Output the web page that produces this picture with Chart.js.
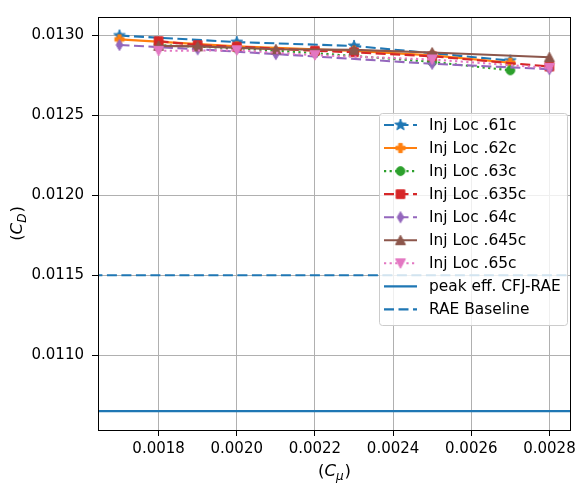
<!DOCTYPE html>
<html>
<head>
<meta charset="utf-8">
<script src="https://cdn.jsdelivr.net/npm/chart.js@4"></script>
<style>
html,body{margin:0;padding:0;background:#fff;}
#wrap{width:580px;height:486px;}
</style>
</head>
<body>
<div id="wrap"><canvas id="c" width="580" height="486"></canvas></div>
<script>
// ---- data ----
const xs61  = [0.0017, 0.0020, 0.0023, 0.0027];
const cd61  = [0.01300, 0.012959, 0.012935, 0.012843];
const xs62  = [0.0017, 0.0020, 0.0023, 0.0025, 0.0027];
const cd62  = [0.012976, 0.012932, 0.012904, 0.012876, 0.012830];
const xs63  = [0.0018, 0.0020, 0.0022, 0.0025, 0.0027];
const cd63  = [0.012940, 0.012920, 0.012890, 0.012835, 0.012782];
const xs635 = [0.0018, 0.0019, 0.0020, 0.0022, 0.0023, 0.0025, 0.0028];
const cd635 = [0.012965, 0.012940, 0.012930, 0.012905, 0.012895, 0.012870, 0.012806];
const xs64  = [0.0017, 0.0019, 0.0021, 0.0025, 0.0028];
const cd64  = [0.012941, 0.012914, 0.012884, 0.012823, 0.012790];
const xs645 = [0.0018, 0.0019, 0.0021, 0.0023, 0.0025, 0.0028];
const cd645 = [0.012935, 0.012932, 0.012914, 0.012910, 0.012894, 0.012864];
const xs65  = [0.0018, 0.0020, 0.0022, 0.0025, 0.0028];
const cd65  = [0.012904, 0.012908, 0.012877, 0.012850, 0.012797];
const peakCFJ = 0.010649;
const raeBaseline = 0.0115;
const seriesLabels = ['Inj Loc .61c','Inj Loc .62c','Inj Loc .63c','Inj Loc .635c','Inj Loc .64c','Inj Loc .645c','Inj Loc .65c'];
const refLabels = ['peak eff. CFJ-RAE','RAE Baseline'];
const xTicks = [0.0018, 0.0020, 0.0022, 0.0024, 0.0026, 0.0028];
const yTicks = [0.0110, 0.0115, 0.0120, 0.0125, 0.0130];
const xRange = [0.001645, 0.002855];
const yRange = [0.010531, 0.013116];

// ---- styling ----
const colors = ['#1f77b4','#ff7f0e','#2ca02c','#d62728','#9467bd','#8c564b','#e377c2'];
const DASH = [10, 4.5], DOT = [2.2, 3.4];
const dashes = [DASH, [], DOT, DASH, DASH, [], DOT];
const shapes = ['star','plus','circle','square','thindiamond','triup','tridown'];
const LW = 2.1;

function makeMarker(shape, color){
  const S = 18, c = document.createElement('canvas');
  c.width = S; c.height = S;
  const g = c.getContext('2d');
  g.fillStyle = color; g.strokeStyle = color; g.lineWidth = 1; g.lineJoin = 'miter';
  const cx = S/2, cy = S/2;
  g.beginPath();
  if (shape === 'star') {
    const R = 6.0, r = 2.5;
    for (let i = 0; i < 10; i++) {
      const a = -Math.PI/2 + i*Math.PI/5, rr = i%2 ? r : R;
      const px = cx + rr*Math.cos(a), py = cy + rr*Math.sin(a);
      i ? g.lineTo(px,py) : g.moveTo(px,py);
    }
    g.closePath();
  } else if (shape === 'plus') {
    const a = 4.6, w = 1.8;
    g.moveTo(cx-w,cy-a); g.lineTo(cx+w,cy-a); g.lineTo(cx+w,cy-w); g.lineTo(cx+a,cy-w);
    g.lineTo(cx+a,cy+w); g.lineTo(cx+w,cy+w); g.lineTo(cx+w,cy+a); g.lineTo(cx-w,cy+a);
    g.lineTo(cx-w,cy+w); g.lineTo(cx-a,cy+w); g.lineTo(cx-a,cy-w); g.lineTo(cx-w,cy-w);
    g.closePath();
  } else if (shape === 'circle') {
    g.arc(cx, cy, 4.4, 0, Math.PI*2);
  } else if (shape === 'square') {
    g.rect(cx-4.3, cy-4.3, 8.6, 8.6);
  } else if (shape === 'thindiamond') {
    g.moveTo(cx, cy-5.6); g.lineTo(cx+3.3, cy); g.lineTo(cx, cy+5.6); g.lineTo(cx-3.3, cy); g.closePath();
  } else if (shape === 'triup') {
    g.moveTo(cx, cy-5); g.lineTo(cx+5, cy+4.4); g.lineTo(cx-5, cy+4.4); g.closePath();
  } else if (shape === 'tridown') {
    g.moveTo(cx, cy+5); g.lineTo(cx+5, cy-4.4); g.lineTo(cx-5, cy-4.4); g.closePath();
  }
  g.fill(); g.stroke();
  return c;
}
const markers = shapes.map((s,i) => makeMarker(s, colors[i]));

function pts(xs, ys){ return xs.map((x,i) => ({x:x, y:ys[i]})); }
const seriesX = [xs61, xs62, xs63, xs635, xs64, xs645, xs65];
const seriesY = [cd61, cd62, cd63, cd635, cd64, cd645, cd65];

const datasets = seriesLabels.map((lab, i) => ({
  label: lab,
  data: pts(seriesX[i], seriesY[i]),
  borderColor: colors[i],
  backgroundColor: colors[i],
  borderWidth: LW,
  borderDash: dashes[i],
  pointStyle: markers[i],
  pointRadius: 5,
  pointHoverRadius: 5,
  tension: 0,
  fill: false,
  order: 20 - i
}));
datasets.push({
  label: refLabels[0],
  data: [{x: 0.0010, y: peakCFJ}, {x: 0.0040, y: peakCFJ}],
  borderColor: '#1f77b4', borderWidth: LW, pointRadius: 0, borderDash: [], order: 5
});
datasets.push({
  label: refLabels[1],
  data: [{x: 0.0010, y: raeBaseline}, {x: 0.0040, y: raeBaseline}],
  borderColor: '#1f77b4', borderWidth: LW, pointRadius: 0, borderDash: DASH, order: 4
});

const FONT = '"DejaVu Sans", sans-serif';
const FS = 15;

const framePlugin = {
  id: 'frame',
  afterDatasetsDraw(chart){
    const {ctx, chartArea: a} = chart;
    ctx.save();
    ctx.strokeStyle = '#000'; ctx.lineWidth = 1;
    ctx.strokeRect(Math.round(a.left)+0.5, Math.round(a.top)+0.5, Math.round(a.right-a.left)-1, Math.round(a.bottom-a.top));
    ctx.restore();
  },
  afterDraw(chart){
    const ctx = chart.ctx, a = chart.chartArea;
    // legend
    const lx = 379, ly = 113, lw = 188, lh = 212;
    ctx.save();
    ctx.beginPath();
    if (ctx.roundRect) ctx.roundRect(lx+0.5, ly+0.5, lw, lh, 3); else ctx.rect(lx+0.5, ly+0.5, lw, lh);
    ctx.fillStyle = 'rgba(255,255,255,0.8)'; ctx.fill();
    ctx.strokeStyle = '#cccccc'; ctx.lineWidth = 1; ctx.stroke();
    const ds = chart.data.datasets;
    ctx.font = '15.4px ' + FONT; ctx.textBaseline = 'middle'; ctx.textAlign = 'left';
    for (let i = 0; i < ds.length; i++) {
      const y = 125 + i*23.05;
      ctx.beginPath();
      ctx.strokeStyle = ds[i].borderColor; ctx.lineWidth = LW;
      ctx.setLineDash(ds[i].borderDash || []);
      ctx.moveTo(384, y); ctx.lineTo(417, y); ctx.stroke();
      ctx.setLineDash([]);
      if (i < markers.length) ctx.drawImage(markers[i], 400.5 - 9, y - 9);
      ctx.fillStyle = '#000';
      ctx.fillText(ds[i].label, 429, y + 0.5);
    }
    // axis titles with subscripts
    function mathLabel(x, y, sub){
      ctx.textBaseline = 'alphabetic';
      const n = '16.5px ' + FONT, it = 'italic 16.5px ' + FONT, si = 'italic 12px ' + FONT;
      ctx.font = n; const w1 = ctx.measureText('(').width;
      ctx.font = it; const w2 = ctx.measureText('C').width;
      ctx.font = si; const w3 = ctx.measureText(sub).width;
      ctx.font = n; const w4 = ctx.measureText(')').width;
      const tot = w1 + w2 + w3 + w4 + 1;
      let cx = x - tot/2;
      ctx.fillStyle = '#000'; ctx.textAlign = 'left';
      ctx.font = n; ctx.fillText('(', cx, y); cx += w1;
      ctx.font = it; ctx.fillText('C', cx, y); cx += w2;
      ctx.font = si; ctx.fillText(sub, cx, y + 3.5); cx += w3 + 1;
      ctx.font = n; ctx.fillText(')', cx, y);
    }
    const midX = (a.left + a.right)/2, midY = (a.top + a.bottom)/2;
    mathLabel(midX, 476, 'μ');
    ctx.save();
    ctx.translate(22, midY);
    ctx.rotate(-Math.PI/2);
    mathLabel(0, 0, 'D');
    ctx.restore();
    ctx.restore();
  }
};

new Chart(document.getElementById('c'), {
  type: 'line',
  data: { datasets },
  plugins: [framePlugin],
  options: {
    responsive: false,
    animation: false,
    devicePixelRatio: 1,
    layout: { padding: { left: 0, top: 7, right: 6, bottom: 0 } },
    plugins: { legend: { display: false }, tooltip: { enabled: false } },
    scales: {
      x: {
        type: 'linear',
        min: xRange[0], max: xRange[1],
        afterBuildTicks(s){ s.ticks = xTicks.map(v => ({value: v})); },
        afterFit(s){ s.height = 56; },
        ticks: {
          color: '#000', font: { family: FONT, size: FS }, padding: 4,
          maxRotation: 0, autoSkip: false,
          callback: v => Number(v).toFixed(4)
        },
        grid: { color: '#b0b0b0', lineWidth: 1, tickColor: '#000', tickLength: 6, drawTicks: true },
        border: { color: '#000', width: 1 }
      },
      y: {
        type: 'linear',
        min: yRange[0], max: yRange[1],
        afterBuildTicks(s){ s.ticks = yTicks.map(v => ({value: v})); },
        afterFit(s){ s.width = 98; },
        ticks: {
          color: '#000', font: { family: FONT, size: FS }, padding: 8, autoSkip: false,
          callback: v => Number(v).toFixed(4)
        },
        grid: { color: '#b0b0b0', lineWidth: 1, tickColor: '#000', tickLength: 6, drawTicks: true },
        border: { color: '#000', width: 1 }
      }
    }
  }
});
</script>
</body>
</html>
